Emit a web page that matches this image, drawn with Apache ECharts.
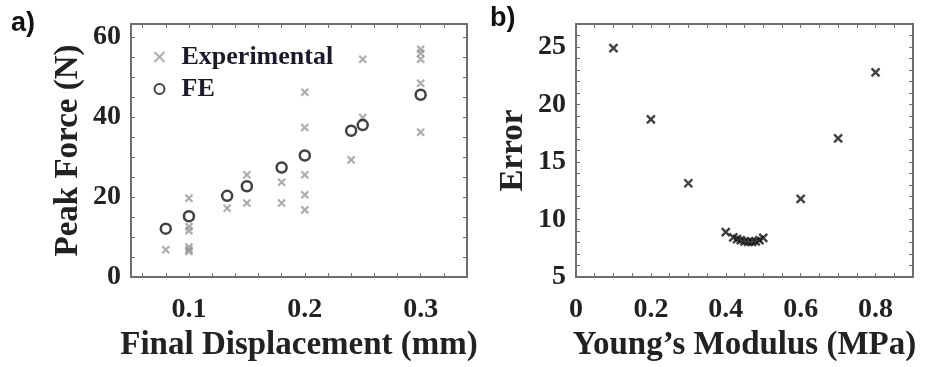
<!DOCTYPE html>
<html>
<head>
<meta charset="utf-8">
<script src="https://cdn.jsdelivr.net/npm/echarts@6/dist/echarts.min.js"></script>
<style>
  html, body { margin: 0; padding: 0; background: #fff; }
  #chart { width: 925px; height: 367px; }
</style>
</head>
<body>
<div id="chart"></div>
<script>
  // a) peak force vs final displacement
  var expX = [0.08, 0.1, 0.1, 0.1, 0.1, 0.1, 0.1, 0.133, 0.15, 0.15, 0.18, 0.18, 0.2, 0.2, 0.2, 0.2, 0.2, 0.24, 0.25, 0.25, 0.3, 0.3, 0.3, 0.3, 0.3];
  var expY = [6.8, 19.7, 12.6, 11.6, 7.5, 6.8, 6.4, 17.2, 25.6, 18.5, 23.7, 18.5, 46.2, 37.4, 25.6, 20.6, 16.8, 29.3, 54.5, 39.9, 57.0, 56.0, 54.5, 48.5, 36.2];
  var feX = [0.08, 0.1, 0.133, 0.15, 0.18, 0.2, 0.24, 0.25, 0.3];
  var feY = [12.1, 15.2, 20.3, 22.7, 27.4, 30.4, 36.6, 38.0, 45.6];

  // b) error vs young's modulus
  var modX = [0.1, 0.2, 0.3, 0.4, 0.42, 0.43, 0.44, 0.45, 0.46, 0.47, 0.48, 0.49, 0.5, 0.6, 0.7, 0.8];
  var errY = [24.9, 18.7, 13.15, 8.9, 8.45, 8.3, 8.2, 8.1, 8.05, 8.05, 8.1, 8.2, 8.4, 11.8, 17.05, 22.8];

  // ticks and labels
  var aXTicks = [0.06, 0.08, 0.1, 0.12, 0.14, 0.16, 0.18, 0.2, 0.22, 0.24, 0.26, 0.28, 0.3, 0.32, 0.34];
  var aXLabels = [0.1, 0.2, 0.3];
  var aYTicks = [0, 5, 10, 15, 20, 25, 30, 35, 40, 45, 50, 55, 60];
  var aYLabels = [0, 20, 40, 60];
  var bXTicks = [0, 0.05, 0.1, 0.15, 0.2, 0.25, 0.3, 0.35, 0.4, 0.45, 0.5, 0.55, 0.6, 0.65, 0.7, 0.75, 0.8, 0.85, 0.9];
  var bXLabels = [0, 0.2, 0.4, 0.6, 0.8];
  var bYTicks = [5, 6, 7, 8, 9, 10, 11, 12, 13, 14, 15, 16, 17, 18, 19, 20, 21, 22, 23, 24, 25, 26, 27];
  var bYLabels = [5, 10, 15, 20, 25];

  var serif = "'Liberation Serif', 'Times New Roman', serif";
  var boxColor = '#6e6e6e';
  var crossPath = 'path://M0,0L10,10M10,0L0,10';

  function pair(xs, ys) {
    return xs.map(function (x, i) { return [x, ys[i]]; });
  }

  function makeAxis(opts) {
    var shown = opts.labels !== null;
    return {
      type: 'value',
      gridIndex: opts.grid,
      position: opts.position,
      min: opts.min,
      max: opts.max,
      name: opts.name || '',
      nameLocation: 'middle',
      nameGap: opts.nameGap || 0,
      nameRotate: opts.nameRotate,
      nameTextStyle: { fontFamily: serif, fontWeight: 'bold', fontSize: 33, color: '#222' },
      axisLine: { show: true, onZero: false, lineStyle: { color: boxColor, width: 2 } },
      axisTick: { show: true, inside: true, length: 4, customValues: opts.ticks, lineStyle: { color: boxColor, width: 1 } },
      axisLabel: {
        show: shown,
        customValues: shown ? opts.labels : undefined,
        margin: opts.margin || 8,
        fontFamily: serif, fontWeight: 'bold', fontSize: 28, color: '#222'
      },
      splitLine: { show: false }
    };
  }

  var myChart = echarts.init(document.getElementById('chart'));
  var option = {
    backgroundColor: '#fff',
    animation: false,
    grid: [
      { left: 131, top: 24, right: 458, bottom: 90 },
      { left: 576, top: 24, right: 12, bottom: 90 }
    ],
    xAxis: [
      makeAxis({ grid: 0, position: 'bottom', min: 0.05, max: 0.34, ticks: aXTicks, labels: aXLabels, margin: 19, name: 'Final Displacement (mm)', nameGap: 52 }),
      makeAxis({ grid: 0, position: 'top', min: 0.05, max: 0.34, ticks: aXTicks, labels: null }),
      makeAxis({ grid: 1, position: 'bottom', min: 0, max: 0.9, ticks: bXTicks, labels: bXLabels, margin: 19, name: 'Young\u2019s Modulus (MPa)', nameGap: 52 }),
      makeAxis({ grid: 1, position: 'top', min: 0, max: 0.9, ticks: bXTicks, labels: null })
    ],
    yAxis: [
      makeAxis({ grid: 0, position: 'left', min: 0, max: 63.3, ticks: aYTicks, labels: aYLabels, margin: 10, name: 'Peak Force (N)', nameGap: 46, nameRotate: 90 }),
      makeAxis({ grid: 0, position: 'right', min: 0, max: 63.3, ticks: aYTicks, labels: null }),
      makeAxis({ grid: 1, position: 'left', min: 5, max: 27, ticks: bYTicks, labels: bYLabels, margin: 10, name: 'Error', nameGap: 46, nameRotate: 90 }),
      makeAxis({ grid: 1, position: 'right', min: 5, max: 27, ticks: bYTicks, labels: null })
    ],
    legend: {
      orient: 'vertical',
      left: 147,
      top: 39,
      itemWidth: 34,
      itemHeight: 10,
      itemGap: 6,
      textStyle: { fontFamily: serif, fontWeight: 'bold', fontSize: 26, color: '#1a1a2a' },
      data: ['Experimental', 'FE']
    },
    graphic: [
      { type: 'text', left: 11, top: 10, style: { text: 'a)', font: "bold 27px 'Liberation Sans', Arial, sans-serif", fill: '#111' } },
      { type: 'text', left: 490, top: 5, style: { text: 'b)', font: "bold 27px 'Liberation Sans', Arial, sans-serif", fill: '#111' } }
    ],
    series: [
      {
        name: 'Experimental',
        type: 'scatter',
        xAxisIndex: 0, yAxisIndex: 0,
        symbol: crossPath,
        symbolSize: 7,
        itemStyle: { color: 'none', borderColor: '#999', borderWidth: 2.2 },
        data: pair(expX, expY)
      },
      {
        name: 'FE',
        type: 'scatter',
        xAxisIndex: 0, yAxisIndex: 0,
        symbol: 'circle',
        symbolSize: 10,
        itemStyle: { color: 'none', borderColor: '#111', borderWidth: 2.5 },
        data: pair(feX, feY)
      },
      {
        name: 'Error',
        type: 'scatter',
        xAxisIndex: 2, yAxisIndex: 2,
        symbol: crossPath,
        symbolSize: 8,
        itemStyle: { color: 'none', borderColor: '#111', borderWidth: 2.4 },
        data: pair(modX, errY)
      }
    ]
  };
  myChart.setOption(option);
</script>
</body>
</html>
